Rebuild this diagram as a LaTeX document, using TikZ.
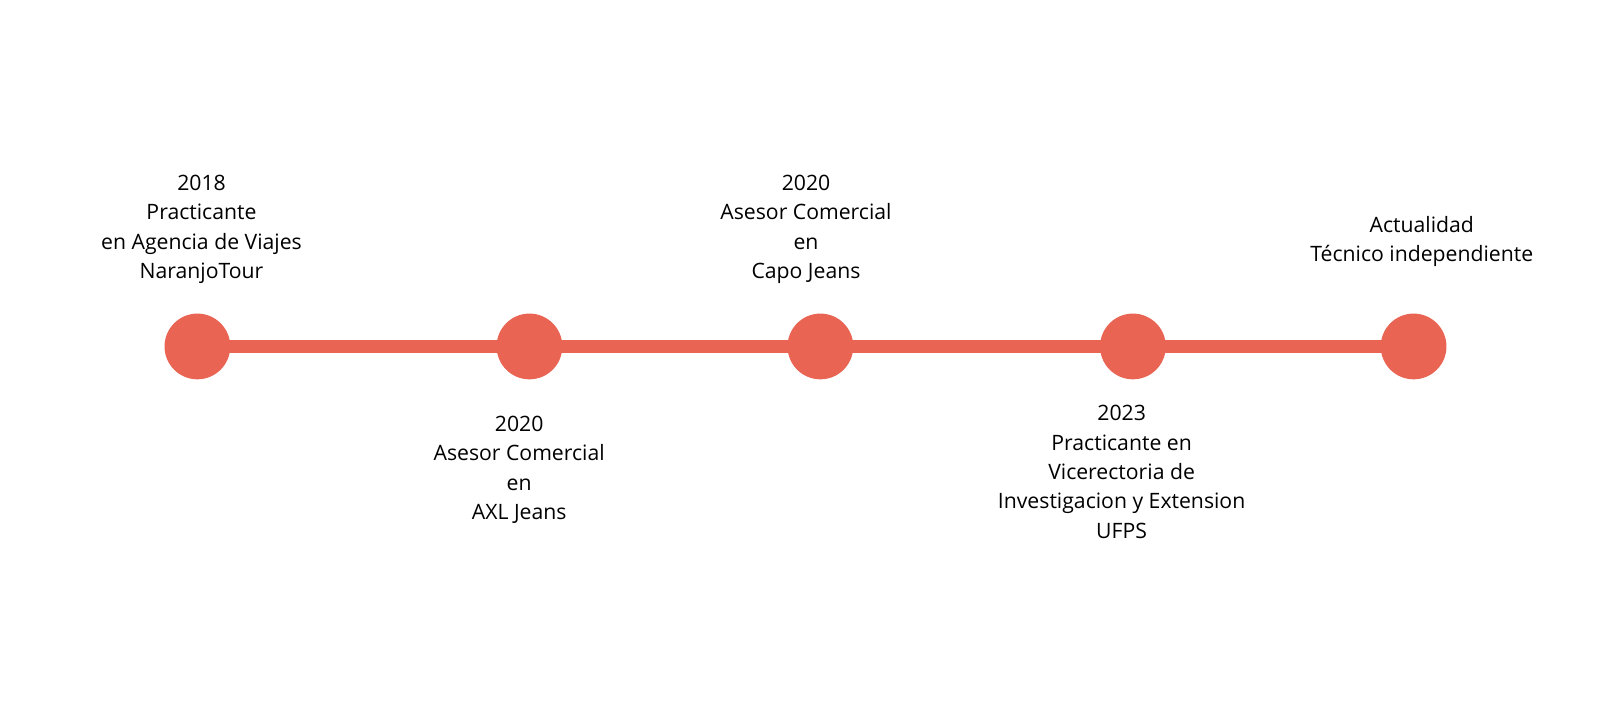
\documentclass[tikz,border=0pt]{standalone}
\usepackage{fontspec}
\setmainfont{Open Sans}
\usepackage{tikz}
\usetikzlibrary{positioning, calc}
\definecolor{coral}{HTML}{E96453}

\begin{document}
\begin{tikzpicture}[
                                        x=0.771pt, y=-0.771pt,
                                        dot/.style={circle, fill=coral, minimum size=49.3pt, inner sep=0pt},
                                        link/.style={draw=coral, line width=9.25pt, shorten <=-3pt, shorten >=-3pt},
                                        label/.style={align=center, inner sep=0pt, font=\fontsize{15.9}{22}\selectfont},
                                ]
                                \useasboundingbox (0,0) rectangle (1568,700);
                                \node[dot] (a) at (192,337) {};
                                \node[dot] (b) at (515,337) {};
                                \node[dot] (c) at (798,337) {};
                                \node[dot] (d) at (1102,337) {};
                                \node[dot] (e) at (1375,337) {};
                                \draw[link] (a) -- (b);
                                \draw[link] (b) -- (c);
                                \draw[link] (c) -- (d);
                                \draw[link] (d) -- (e);
                                \node[label] (ta) at (196,223) {2018\\Practicante\\en Agencia de Viajes\\NaranjoTour};
                                \node[label] (tb) at (505,457) {2020\\Asesor Comercial\\en\\AXL Jeans};
                                \node[label] (tc) at (784,223) {2020\\Asesor Comercial\\en\\Capo Jeans};
                                \node[label] (td) at (1091,459) {2023\\Practicante en\\Vicerectoria de\\Investigacion y Extension\\UFPS};
                                \node[label] (te) at (1383,235) {Actualidad\\Técnico independiente};
                        \end{tikzpicture}
\end{document}
